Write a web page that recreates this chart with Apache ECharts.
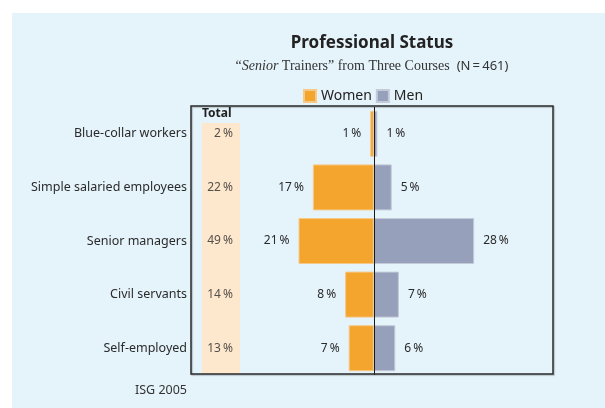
<!DOCTYPE html>
<html>
<head>
<meta charset="utf-8">
<script src="https://cdn.jsdelivr.net/npm/echarts@6/dist/echarts.min.js"></script>
<style>
	html, body { margin: 0; padding: 0; background: #fff; }
	#chart { width: 605px; height: 408px; }
</style>
</head>
<body>
<div id="chart"></div>
<script>
	// data
	const categories = ['Blue-collar workers', 'Simple salaried employees', 'Senior managers', 'Civil servants', 'Self-employed'];
	const totals = [2, 22, 49, 14, 13];
	const women = [1, 17, 21, 8, 7];
	const men = [1, 5, 28, 7, 6];

	const pct = v => v + '\u2009%';
	const TOTAL_X = -39.3; // where the "Total" column sits on the value axis

	const font = '"Noto Sans", "Open Sans", sans-serif';

	let chart = echarts.init(document.getElementById('chart'));
	let option = {
		animation: false,
		textStyle: { fontFamily: font },
		graphic: [
			{ type: 'rect', z: -10, shape: { x: 12, y: 13, width: 593, height: 395 }, style: { fill: '#e5f3fb' } },
			{ type: 'rect', z: -9, shape: { x: 202, y: 123, width: 38, height: 251 }, style: { fill: '#fde7cd' } },
			{ type: 'rect', z: 10, shape: { x: 191, y: 106, width: 362, height: 268 },
				style: { fill: null, stroke: '#2b2b2b', lineWidth: 1.5, shadowColor: 'rgba(0,0,0,0.25)', shadowOffsetX: 1, shadowOffsetY: 1, shadowBlur: 1 } },
			{ type: 'text', x: 372, y: 43, style: { text: 'Professional Status', font: 'bold 17px ' + font, fill: '#222', align: 'center', verticalAlign: 'middle' } },
			{ type: 'text', x: 372, y: 66, style: {
				text: '\u201c{i|Senior} Trainers\u201d from Three Courses  {s|(N\u2009=\u2009461)}',
				font: '14px "Liberation Serif", "DejaVu Serif", serif', fill: '#333', align: 'center', verticalAlign: 'middle',
				rich: {
					i: { fontStyle: 'italic', fontFamily: '"Liberation Serif", serif', fontSize: 14, fill: '#333' },
					s: { fontFamily: font, fontSize: 13, fill: '#333' }
				}
			} },
			{ type: 'text', x: 202, y: 114, style: { text: 'Total', font: 'bold 12px ' + font, fill: '#222', align: 'left', verticalAlign: 'middle' } },
			{ type: 'text', x: 187, y: 390, style: { text: 'ISG 2005', font: '12.5px ' + font, fill: '#333', align: 'right', verticalAlign: 'middle' } }
		],
		legend: {
			data: ['Women', 'Men'],
			left: 298,
			top: 84,
			icon: 'rect',
			itemWidth: 12,
			itemHeight: 12,
			itemGap: 4,
			textStyle: { fontSize: 14, color: '#222', fontFamily: font }
		},
		grid: {
			left: 191,
			right: 52,
			top: 107,
			bottom: 33
		},
		xAxis: {
			type: 'value',
			min: -51,
			max: 50,
			show: false
		},
		yAxis: {
			type: 'category',
			inverse: true,
			data: categories,
			axisLine: { show: false },
			axisTick: { show: false },
			axisLabel: { margin: 4, fontSize: 12.5, color: '#2a2a2a', fontFamily: font }
		},
		series: [
			{
				name: 'Women',
				type: 'bar',
				stack: 'gender',
				barWidth: 46,
				data: women.map(v => -v),
				itemStyle: { color: '#f3a52e', borderColor: '#f6c989', borderWidth: 1 },
				label: { show: true, position: 'left', distance: 9, fontSize: 12, color: '#2a2a2a', formatter: p => pct(Math.abs(p.value)) }
			},
			{
				name: 'Men',
				type: 'bar',
				stack: 'gender',
				barWidth: 46,
				data: men,
				itemStyle: { color: '#96a0ba', borderColor: '#c3cad8', borderWidth: 1 },
				label: { show: true, position: 'right', distance: 9, fontSize: 12, color: '#2a2a2a', formatter: p => pct(p.value) },
				markLine: {
					silent: true,
					symbol: 'none',
					label: { show: false },
					lineStyle: { color: '#1a1a1a', width: 1, type: 'solid' },
					data: [{ xAxis: 0 }]
				}
			},
			{
				name: 'Total',
				type: 'scatter',
				symbolSize: 0,
				silent: true,
				data: totals.map((t, i) => [TOTAL_X, i]),
				label: { show: true, position: 'left', distance: 0, fontSize: 12, color: '#2a2a2a', formatter: p => pct(totals[p.dataIndex]) }
			}
		]
	};
	chart.setOption(option);
</script>
</body>
</html>
